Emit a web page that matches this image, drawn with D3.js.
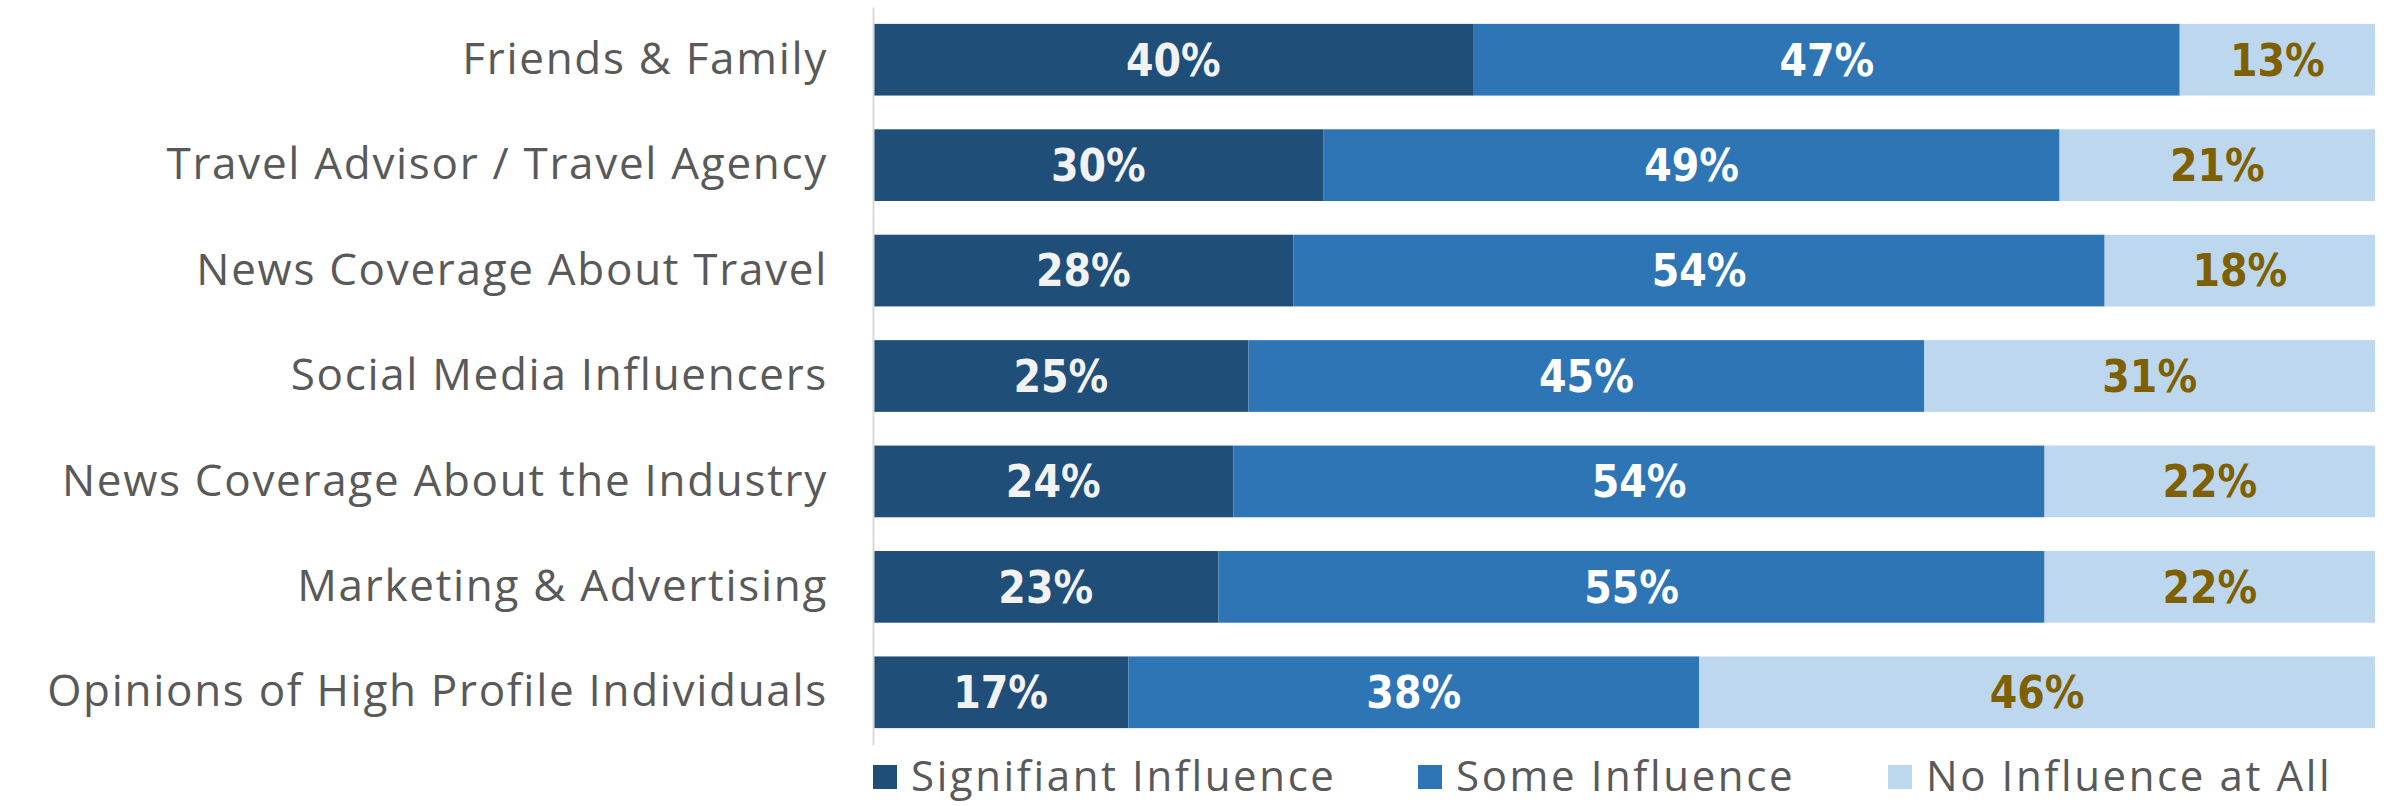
<!DOCTYPE html>
<html>
<head>
<meta charset="utf-8">
<script src="https://cdn.jsdelivr.net/npm/d3@7"></script>
<style>
    body { margin: 0; background: #fff; }
    svg { display: block; }
</style>
</head>
<body>
<div id="chart"></div>
<script>
// Source data (percent)
const categories = [
    'Friends & Family',
    'Travel Advisor / Travel Agency',
    'News Coverage About Travel',
    'Social Media Influencers',
    'News Coverage About the Industry',
    'Marketing & Advertising',
    'Opinions of High Profile Individuals'
];
const seriesNames = ['Signifiant Influence', 'Some Influence', 'No Influence at All'];
const significant = [40, 30, 28, 25, 24, 23, 17];
const some = [47, 49, 54, 45, 54, 55, 38];
const none = [13, 21, 18, 31, 22, 22, 46];

const colors = ['#1F4E79', '#2E75B6', '#BDD7EE'];
const labelColors = ['#F2F2F2', '#FFFFFF', '#7F6000'];

const width = 2386;
const height = 806;
const margin = { top: 7, right: 11, bottom: 61, left: 873 };
const textFont = '"Open Sans", sans-serif';

const svg = d3.select('#chart')
    .append('svg')
    .attr('width', width)
    .attr('height', height);

// build rows for the stack
const rows = categories.map((c, i) => ({
    cat: c,
    s0: significant[i],
    s1: some[i],
    s2: none[i]
}));
const keys = ['s0', 's1', 's2'];
const stacked = d3.stack().keys(keys)(rows);

// rounded values can sum to 101, bar is capped at 100%
const x = d3.scaleLinear()
    .domain([0, 100])
    .range([margin.left, width - margin.right])
    .clamp(true);

const y = d3.scaleBand()
    .domain(categories)
    .range([margin.top, height - margin.bottom])
    .paddingInner(0.32)
    .paddingOuter(0.16);

// Bars
const layer = svg.append('g')
    .selectAll('g')
    .data(stacked)
    .enter().append('g')
    .attr('fill', (d, i) => colors[i]);

layer.selectAll('rect')
    .data(d => d)
    .enter().append('rect')
    .attr('x', d => x(d[0]))
    .attr('y', d => y(d.data.cat))
    .attr('width', d => x(d[1]) - x(d[0]))
    .attr('height', y.bandwidth());

// Value labels
stacked.forEach((s, si) => {
    svg.append('g')
        .selectAll('text')
        .data(s)
        .enter().append('text')
        .attr('x', d => (x(d[0]) + x(d[1])) / 2)
        .attr('y', d => y(d.data.cat) + y.bandwidth() / 2)
        .attr('dy', '0.36em')
        .attr('text-anchor', 'middle')
        .attr('fill', labelColors[si])
        .style('font-family', '"DejaVu Sans Condensed", "DejaVu Sans", sans-serif')
        .style('font-weight', 'bold')
        .style('font-stretch', 'condensed')
        .style('font-size', '44px')
        .text(d => d.data[s.key] + '%');
});

// Category axis
const yAxis = svg.append('g')
    .attr('transform', `translate(${margin.left},0)`)
    .call(d3.axisLeft(y).tickSize(0).tickPadding(45));

yAxis.select('.domain')
    .attr('stroke', '#D9D9D9')
    .attr('stroke-width', 2);

yAxis.selectAll('text')
    .attr('fill', '#595959')
    .style('font-family', textFont)
    .style('font-size', '44px')
    .style('letter-spacing', '1.7px');

// Legend
const legendX = [873, 1418, 1888];
const legend = svg.append('g')
    .selectAll('g')
    .data(seriesNames)
    .enter().append('g')
    .attr('transform', (d, i) => `translate(${legendX[i]},776)`);

legend.append('rect')
    .attr('x', 0)
    .attr('y', -11)
    .attr('width', 24)
    .attr('height', 24)
    .attr('fill', (d, i) => colors[i]);

legend.append('text')
    .attr('x', 38)
    .attr('dy', '0.36em')
    .attr('fill', '#595959')
    .style('font-family', textFont)
    .style('font-size', '42px')
    .style('letter-spacing', '2.6px')
    .text(d => d);
</script>
</body>
</html>
